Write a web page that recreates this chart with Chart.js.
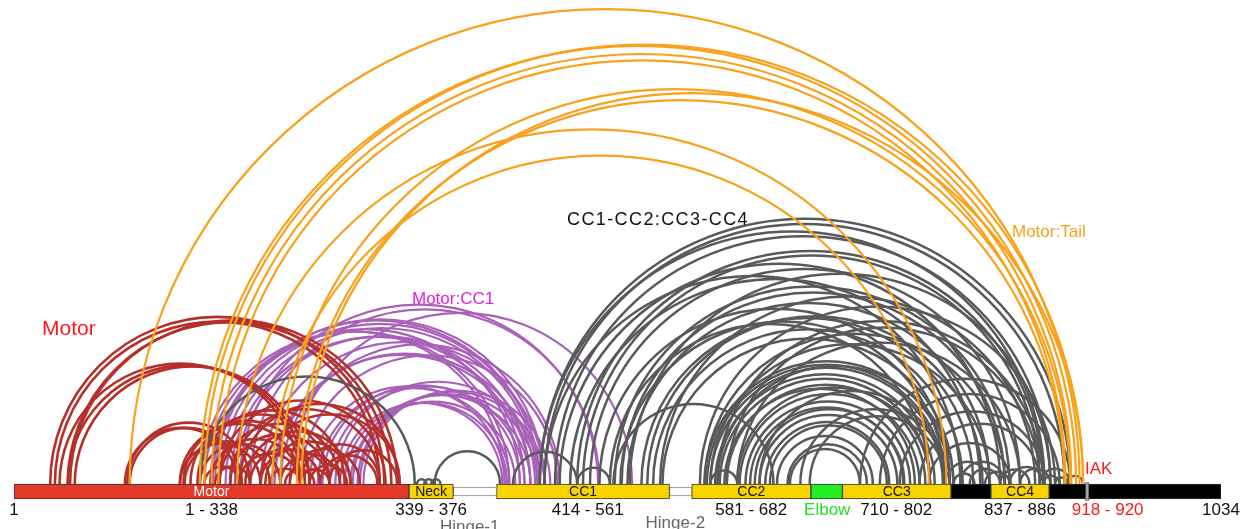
<!DOCTYPE html>
<html>
<head>
<meta charset="utf-8">
<script src="https://cdn.jsdelivr.net/npm/chart.js@4/dist/chart.umd.min.js"></script>
<style>
  html, body { margin: 0; padding: 0; background: #fff; }
  canvas { display: block; }
</style>
</head>
<body>
<canvas id="chart" width="1243" height="529"></canvas>
<script>
// residue range of the heavy chain
const residueMin = 1;
const residueMax = 1034;

// domains along the bar
const domainNames = ["Motor", "Neck", "Hinge-1", "CC1", "Hinge-2", "CC2", "Elbow", "CC3", "Tail-a", "CC4", "Tail-b"];
const domainStart = [1, 339, 377, 414, 562, 581, 683, 710, 803, 837, 887];
const domainEnd = [339, 377, 414, 562, 581, 683, 710, 803, 837, 887, 1034];
const iakSite = [918, 921];

// labels under the bar
const rangeText = ["1", "1 - 338", "339 - 376", "414 - 561", "581 - 682", "Elbow", "710 - 802", "837 - 886", "918 - 920", "1034"];
const rangePos = [1, 170, 358, 492, 632, 697, 756, 862, 937, 1034];
const hingeText = ["Hinge-1", "Hinge-2"];
const hingePos = [391, 567];

// crosslinks: [residue a, residue b]
const motorLinks = [
  [32, 318], [36, 314], [49, 329], [47, 324],
  [40, 246], [47, 250], [53, 254],
  [96, 192], [100, 196], [98, 203],
  [143, 246], [146, 254], [152, 271], [158, 284], [143, 212], [147, 220],
  [160, 229], [169, 246], [177, 280], [186, 271], [194, 246], [199, 289],
  [203, 263], [212, 271], [216, 289], [220, 246], [229, 280], [237, 297],
  [246, 314], [254, 286], [263, 312], [271, 329], [212, 331], [194, 331],
  [186, 314], [164, 194], [173, 203], [233, 258], [246, 271], [176, 319]
];
const motorCC1Links = [
  [160, 421], [164, 425], [169, 434], [171, 451], [173, 455], [177, 451],
  [182, 449], [186, 438], [190, 443], [194, 501], [203, 502], [212, 455],
  [222, 443], [224, 447], [229, 468], [237, 530], [246, 466], [254, 421],
  [261, 425], [265, 434], [271, 438], [276, 451], [280, 419], [284, 423],
  [289, 430], [291, 443], [295, 449], [297, 455], [300, 460]
];
const coiledLinks = [
  [160, 344], [346, 354], [352, 360], [358, 366], [361, 417], [428, 483], [483, 511],
  [451, 905], [455, 900], [464, 888], [451, 883], [483, 882], [488, 879],
  [502, 802], [515, 853], [521, 849], [526, 836], [538, 822], [543, 830],
  [548, 813], [556, 805], [520, 798], [511, 785], [514, 651],
  [455, 811], [468, 845], [477, 828], [494, 862], [528, 888], [554, 875], [588, 892],
  [592, 802], [594, 798], [597, 796], [603, 805], [605, 785], [611, 781],
  [620, 785], [622, 776], [631, 762], [639, 757], [648, 748], [654, 736],
  [663, 731], [665, 725], [592, 849], [597, 836], [603, 882], [611, 879], [620, 862],
  [601, 789], [609, 772], [627, 768], [635, 763], [644, 750], [674, 802],
  [682, 798], [639, 798], [597, 620],
  [725, 905], [742, 896], [759, 883], [776, 879], [784, 854], [798, 836],
  [805, 823], [811, 849], [819, 845], [832, 853], [845, 870], [853, 882],
  [862, 888], [882, 896], [892, 903], [902, 916], [879, 905]
];
const motorTailLinks = [
  [100, 913], [160, 910], [164, 916], [170, 906], [176, 901],
  [192, 799], [222, 784], [229, 905], [243, 900], [247, 916]
];

const FONT = "'Liberation Sans', Arial, sans-serif";

const domainFill = ["#e5392a", "#f7d300", "#ffffff", "#f7d300", "#ffffff", "#f7d300", "#22ee22", "#f7d300", "#000000", "#f7d300", "#000000"];
const datasets = domainNames.map(function (name, i) {
  const hinge = name.indexOf("Hinge") === 0;
  return {
    label: name,
    data: [[domainStart[i], domainEnd[i]]],
    backgroundColor: domainFill[i],
    borderColor: hinge ? "#888" : "#333",
    borderWidth: 1,
    borderSkipped: false,
    barThickness: hinge ? 9 : 15,
    grouped: false
  };
});
datasets.push({
  label: "IAK",
  data: [iakSite],
  backgroundColor: "#aaaaaa",
  borderColor: "#555",
  borderWidth: 1,
  borderSkipped: false,
  barThickness: 18,
  grouped: false,
  order: -1
});

const arcPlugin = {
  id: "arcs",
  beforeDatasetsDraw(chart) {
    const ctx = chart.ctx;
    const x = chart.scales.x;
    const bar = chart.getDatasetMeta(0).data[0];
    const baseY = bar.y - bar.height / 2;
    const groups = [
      [motorCC1Links, "#a762b8", 2.2],
      [motorLinks, "#b5302a", 2.6],
      [coiledLinks, "#58595b", 2.5],
      [motorTailLinks, "#f9a11b", 2.2]
    ];
    ctx.save();
    groups.forEach(function (g) {
      ctx.strokeStyle = g[1];
      ctx.lineWidth = g[2];
      g[0].forEach(function (l) {
        const x1 = x.getPixelForValue(l[0]);
        const x2 = x.getPixelForValue(l[1]);
        ctx.beginPath();
        ctx.arc((x1 + x2) / 2, baseY, Math.abs(x2 - x1) / 2, Math.PI, 2 * Math.PI);
        ctx.stroke();
      });
    });
    ctx.restore();
  }
};

const labelPlugin = {
  id: "labels",
  afterDatasetsDraw(chart) {
    const ctx = chart.ctx;
    const x = chart.scales.x;
    const bar = chart.getDatasetMeta(0).data[0];
    ctx.save();
    // names inside the bar
    ctx.font = "14px " + FONT;
    ctx.textAlign = "center";
    ctx.textBaseline = "middle";
    ["Motor", "Neck", "CC1", "CC2", "CC3", "CC4"].forEach(function (n) {
      const i = domainNames.indexOf(n);
      ctx.fillStyle = n === "Motor" ? "#ffffff" : "#111";
      ctx.fillText(n, x.getPixelForValue((domainStart[i] + domainEnd[i]) / 2), bar.y + 1);
    });
    // ranges under the bar
    ctx.font = "17px " + FONT;
    ctx.textBaseline = "alphabetic";
    rangeText.forEach(function (t, i) {
      ctx.fillStyle = t === "Elbow" ? "#22dd22" : (t === "918 - 920" ? "#ff1a1a" : "#111");
      ctx.fillText(t, x.getPixelForValue(rangePos[i]), 515);
    });
    ctx.fillStyle = "#666";
    ctx.fillText(hingeText[0], x.getPixelForValue(hingePos[0]), 532);
    ctx.fillText(hingeText[1], x.getPixelForValue(hingePos[1]), 528);
    // group labels
    ctx.textAlign = "left";
    ctx.textBaseline = "middle";
    ctx.font = "21px " + FONT;
    ctx.fillStyle = "#ff1a1a";
    ctx.fillText("Motor", 42, 329);
    ctx.font = "17px " + FONT;
    ctx.fillStyle = "#e21ee2";
    ctx.fillText("Motor:CC1", 412, 299);
    ctx.fillStyle = "#f9a11b";
    ctx.fillText("Motor:Tail", 1012, 232);
    ctx.fillStyle = "#ff1a1a";
    ctx.fillText("IAK", 1085, 469);
    ctx.fillStyle = "#111";
    ctx.font = "18px " + FONT;
    ctx.letterSpacing = "1.4px";
    ctx.fillText("CC1-CC2:CC3-CC4", 567, 220);
    ctx.restore();
  }
};

new Chart(document.getElementById("chart"), {
  type: "bar",
  data: { labels: ["heavy chain"], datasets: datasets },
  options: {
    indexAxis: "y",
    responsive: false,
    animation: false,
    layout: { padding: { left: 14, right: 22, top: 454, bottom: 0 } },
    scales: {
      x: { type: "linear", min: residueMin, max: residueMax, display: false },
      y: { display: false }
    },
    plugins: { legend: { display: false }, tooltip: { enabled: false } }
  },
  plugins: [arcPlugin, labelPlugin]
});
</script>
</body>
</html>
